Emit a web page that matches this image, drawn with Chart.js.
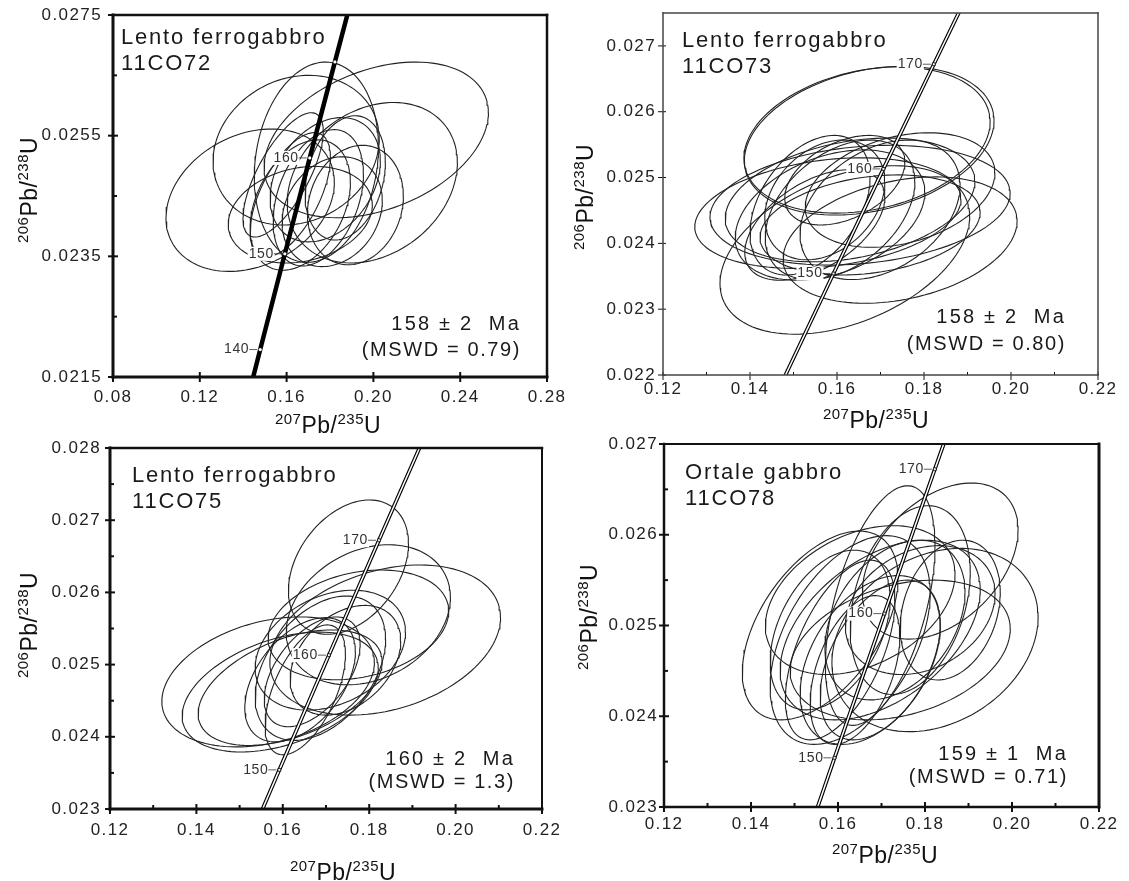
<!DOCTYPE html>
<html>
<head>
<meta charset="utf-8">
<script src="https://cdn.jsdelivr.net/npm/chart.js@4.4.1/dist/chart.umd.min.js"></script>
<style>
  body { margin: 0; background: #fff; }
  #wrap { position: relative; width: 1129px; height: 881px; }
  canvas { position: absolute; left: 0; top: 0; }
</style>
</head>
<body>
<div id="wrap">
  <canvas id="c1" width="1129" height="881"></canvas>
  <canvas id="c2" width="1129" height="881"></canvas>
  <canvas id="c3" width="1129" height="881"></canvas>
  <canvas id="c4" width="1129" height="881"></canvas>
</div>
<script>
// concordia (age in Ma, 207Pb/235U, 206Pb/238U)
const concAge = [120, 130, 140, 150, 160, 170, 180, 190];
const conc207 = [0.12545, 0.13659, 0.14784, 0.15920, 0.17067, 0.18226, 0.19396, 0.20577];
const conc206 = [0.018789, 0.020371, 0.021955, 0.023542, 0.025131, 0.026722, 0.028316, 0.029912];

// 11CO72 - ellipse centres, half-widths and error correlation
const p1X = [0.1432, 0.2013, 0.1995, 0.1737, 0.1644, 0.1663, 0.1746, 0.1617, 0.1810, 0.1870, 0.1663, 0.1584, 0.1917, 0.1778];
const p1Y = [0.02443, 0.02543, 0.02472, 0.02506, 0.02526, 0.02435, 0.02447, 0.02452, 0.02424, 0.02480, 0.02419, 0.02485, 0.02435, 0.02477];
const p1SX = [0.0388, 0.0517, 0.0392, 0.0286, 0.0383, 0.0231, 0.0208, 0.0185, 0.0231, 0.0185, 0.0332, 0.0185, 0.0221, 0.0254];
const p1SY = [0.00118, 0.00129, 0.00133, 0.00166, 0.00124, 0.00108, 0.00113, 0.00103, 0.00091, 0.00103, 0.00080, 0.00103, 0.00099, 0.00103];
const p1Rho = [0.25, 0.35, 0.25, 0.15, 0.15, 0.35, 0.35, 0.60, 0.20, 0.25, 0.20, 0.70, 0.15, 0.30];
const p1XTicks = [0.08, 0.12, 0.16, 0.20, 0.24, 0.28];
const p1XLabels = ['0.08', '0.12', '0.16', '0.20', '0.24', '0.28'];
const p1XMinor = [];
const p1YTicks = [0.0215, 0.0235, 0.0255, 0.0275];
const p1YLabels = ['0.0215', '0.0235', '0.0255', '0.0275'];
const p1YMinor = [0.0225, 0.0245, 0.0265];
const p1Marks = [140, 150, 160, 170];
const p1AgeLabels = [140, 150, 160];

// 11CO73
const p2X = [0.1669, 0.1674, 0.1618, 0.1745, 0.1579, 0.1653, 0.1630, 0.1584, 0.1607, 0.1572, 0.1699, 0.1745, 0.1549, 0.1676, 0.1538, 0.1618];
const p2Y = [0.02557, 0.02556, 0.02390, 0.02405, 0.02446, 0.02458, 0.02466, 0.02443, 0.02451, 0.02466, 0.02451, 0.02481, 0.02428, 0.02428, 0.02458, 0.02496];
const p2SX = [0.0283, 0.0287, 0.0287, 0.0269, 0.0306, 0.0345, 0.0287, 0.0218, 0.0172, 0.0138, 0.0184, 0.0218, 0.0161, 0.0253, 0.0138, 0.0138];
const p2SY = [0.00111, 0.00113, 0.00128, 0.00096, 0.00084, 0.00091, 0.00094, 0.00099, 0.00106, 0.00091, 0.00106, 0.00087, 0.00084, 0.00076, 0.00106, 0.00068];
const p2Rho = [0.25, 0.27, 0.40, 0.30, 0.25, 0.20, 0.30, 0.35, 0.40, 0.30, 0.35, 0.30, 0.50, 0.25, 0.40, 0.40];
const p2XTicks = [0.12, 0.14, 0.16, 0.18, 0.20, 0.22];
const p2XLabels = ['0.12', '0.14', '0.16', '0.18', '0.20', '0.22'];
const p2XMinor = [0.13, 0.15, 0.17, 0.19, 0.21];
const p2YTicks = [0.022, 0.023, 0.024, 0.025, 0.026, 0.027];
const p2YLabels = ['0.022', '0.023', '0.024', '0.025', '0.026', '0.027'];
const p2YMinor = [];
const p2Marks = [150, 160, 170];
const p2AgeLabels = [150, 160, 170];

// 11CO75
const p3X = [0.1752, 0.1837, 0.1798, 0.1566, 0.1594, 0.1617, 0.1687, 0.1640, 0.1710, 0.1652, 0.1745, 0.1668, 0.1775];
const p3Y = [0.02635, 0.02534, 0.02569, 0.02476, 0.02462, 0.02468, 0.02495, 0.02479, 0.02520, 0.02465, 0.02506, 0.02490, 0.02555];
const p3SX = [0.0139, 0.0267, 0.0190, 0.0246, 0.0227, 0.0213, 0.0151, 0.0128, 0.0174, 0.0093, 0.0128, 0.0111, 0.0209];
const p3SY = [0.00093, 0.00104, 0.00097, 0.00090, 0.00083, 0.00080, 0.00100, 0.00086, 0.00083, 0.00090, 0.00076, 0.00076, 0.00076];
const p3Rho = [0.35, 0.30, 0.25, 0.30, 0.40, 0.45, 0.40, 0.45, 0.30, 0.55, 0.35, 0.50, 0.25];
const p3XTicks = [0.12, 0.14, 0.16, 0.18, 0.20, 0.22];
const p3XLabels = ['0.12', '0.14', '0.16', '0.18', '0.20', '0.22'];
const p3XMinor = [0.13, 0.15, 0.17, 0.19, 0.21];
const p3YTicks = [0.023, 0.024, 0.025, 0.026, 0.027, 0.028];
const p3YLabels = ['0.023', '0.024', '0.025', '0.026', '0.027', '0.028'];
const p3YMinor = [0.0235, 0.0245, 0.0255, 0.0265, 0.0275];
const p3Marks = [150, 160, 170];
const p3AgeLabels = [150, 160, 170];

// 11CO78
const p4X = [0.1559, 0.1823, 0.1835, 0.1697, 0.1628, 0.1674, 0.1731, 0.1651, 0.1766, 0.1605, 0.1697, 0.1743, 0.1789, 0.1639, 0.1582, 0.1858, 0.1697];
const p4Y = [0.02500, 0.02484, 0.02571, 0.02522, 0.02484, 0.02462, 0.02506, 0.02528, 0.02528, 0.02473, 0.02495, 0.02473, 0.02517, 0.02451, 0.02495, 0.02517, 0.02462];
const p4SX = [0.0179, 0.0237, 0.0179, 0.0126, 0.0184, 0.0161, 0.0161, 0.0218, 0.0138, 0.0126, 0.0230, 0.0253, 0.0172, 0.0103, 0.0138, 0.0115, 0.0138];
const p4SY = [0.00104, 0.00101, 0.00086, 0.00132, 0.00115, 0.00093, 0.00088, 0.00082, 0.00104, 0.00099, 0.00099, 0.00077, 0.00071, 0.00082, 0.00088, 0.00077, 0.00088];
const p4Rho = [0.50, 0.25, 0.40, 0.50, 0.45, 0.40, 0.35, 0.35, 0.30, 0.55, 0.45, 0.30, 0.25, 0.45, 0.40, 0.25, 0.45];
const p4XTicks = [0.12, 0.14, 0.16, 0.18, 0.20, 0.22];
const p4XLabels = ['0.12', '0.14', '0.16', '0.18', '0.20', '0.22'];
const p4XMinor = [0.13, 0.15, 0.17, 0.19, 0.21];
const p4YTicks = [0.023, 0.024, 0.025, 0.026, 0.027];
const p4YLabels = ['0.023', '0.024', '0.025', '0.026', '0.027'];
const p4YMinor = [0.0235, 0.0245, 0.0255, 0.0265];
const p4Marks = [150, 160, 170];
const p4AgeLabels = [150, 160, 170];

const FONT = '"Liberation Sans", Arial, sans-serif';
Chart.defaults.font.family = FONT;

const Y_W = 95;   // width kept for y tick labels
const X_H = 40;   // height kept for x tick labels

const panels = [
  { id: 'c1', box: [113, 15, 547, 377], xr: [0.08, 0.28], yr: [0.0215, 0.0275],
    x: p1X, y: p1Y, sx: p1SX, sy: p1SY, rho: p1Rho,
    xt: p1XTicks, xl: p1XLabels, xm: p1XMinor, yt: p1YTicks, yl: p1YLabels, ym: p1YMinor,
    marks: p1Marks, ageLabels: p1AgeLabels, solid: true, frameColor: '#111',
    frame: [3, 2.5, 2.5, 3], tick: [5, 5, 4], tickW: 2, xPad: 10, yPad: 11,
    name: ['Lento ferrogabbro', '11CO72'], nameAt: [121, 44, 70],
    age: ['158 \u00b1 2  Ma', '(MSWD = 0.79)'], ageAt: [521, 330, 356],
    xTitle: [328, 433], yTitle: [37, 190] },
  { id: 'c2', box: [663, 13, 1098, 375], xr: [0.12, 0.22], yr: [0.022, 0.0275],
    x: p2X, y: p2Y, sx: p2SX, sy: p2SY, rho: p2Rho,
    xt: p2XTicks, xl: p2XLabels, xm: p2XMinor, yt: p2YTicks, yl: p2YLabels, ym: p2YMinor,
    marks: p2Marks, ageLabels: p2AgeLabels, solid: false, frameColor: '#444',
    frame: [1.5, 1.5, 1.5, 1.5], tick: [5, 3, 3], tickW: 1, xPad: 4, yPad: 7,
    name: ['Lento ferrogabbro', '11CO73'], nameAt: [682, 47, 73],
    age: ['158 \u00b1 2  Ma', '(MSWD = 0.80)'], ageAt: [1066, 323, 350],
    xTitle: [876, 428], yTitle: [593, 197] },
  { id: 'c3', box: [110, 448, 542, 809], xr: [0.12, 0.22], yr: [0.023, 0.028],
    x: p3X, y: p3Y, sx: p3SX, sy: p3SY, rho: p3Rho,
    xt: p3XTicks, xl: p3XLabels, xm: p3XMinor, yt: p3YTicks, yl: p3YLabels, ym: p3YMinor,
    marks: p3Marks, ageLabels: p3AgeLabels, solid: false, frameColor: '#111',
    frame: [3, 2.5, 2, 3], tick: [5, 5, 4], tickW: 2, xPad: 11, yPad: 9,
    name: ['Lento ferrogabbro', '11CO75'], nameAt: [132, 482, 508],
    age: ['160 \u00b1 2  Ma', '(MSWD = 1.3)'], ageAt: [515, 765, 788],
    xTitle: [343, 880], yTitle: [37, 625] },
  { id: 'c4', box: [664, 444, 1099, 807], xr: [0.12, 0.22], yr: [0.023, 0.027],
    x: p4X, y: p4Y, sx: p4SX, sy: p4SY, rho: p4Rho,
    xt: p4XTicks, xl: p4XLabels, xm: p4XMinor, yt: p4YTicks, yl: p4YLabels, ym: p4YMinor,
    marks: p4Marks, ageLabels: p4AgeLabels, solid: false, frameColor: '#111',
    frame: [2.5, 2, 3, 2.5], tick: [5, 5, 4], tickW: 2, xPad: 7, yPad: 6,
    name: ['Ortale gabbro', '11CO78'], nameAt: [685, 479, 505],
    age: ['159 \u00b1 1  Ma', '(MSWD = 0.71)'], ageAt: [1068, 760, 783],
    xTitle: [885, 863], yTitle: [597, 617] }
];

// outline of a 2-sigma error ellipse from centre, half-widths and correlation
function ellipsePts(cx, cy, ax, ay, rho) {
  const pts = [];
  const s = Math.sqrt(1 - rho * rho);
  for (let k = 0; k <= 120; k++) {
    const t = k / 120 * 2 * Math.PI;
    pts.push({ x: cx + ax * Math.cos(t), y: cy + ay * (rho * Math.cos(t) + s * Math.sin(t)) });
  }
  return pts;
}

function concPoint(age) {
  const i = concAge.indexOf(age);
  return { x: conc207[i], y: conc206[i] };
}

function line(ctx, x1, y1, x2, y2) {
  ctx.beginPath();
  ctx.moveTo(x1, y1);
  ctx.lineTo(x2, y2);
  ctx.stroke();
}

function supTitle(ctx, x, y, rot, parts) {
  ctx.save();
  ctx.translate(x, y);
  ctx.rotate(rot);
  ctx.letterSpacing = '0.5px';
  ctx.fillStyle = '#111';
  ctx.textAlign = 'left';
  ctx.textBaseline = 'alphabetic';
  const big = '23px ' + FONT, small = '15px ' + FONT;
  let w = 0;
  parts.forEach(([t, sup]) => { ctx.font = sup ? small : big; w += ctx.measureText(t).width; });
  let cx = -w / 2;
  parts.forEach(([t, sup]) => {
    ctx.font = sup ? small : big;
    ctx.fillText(t, cx, sup ? -9 : 0);
    cx += ctx.measureText(t).width;
  });
  ctx.restore();
}

function makeDecor(p) {
  return {
    id: 'decor' + p.id,
    beforeDraw(chart) {
      chart.ctx.letterSpacing = '1.4px';
    },
    afterDraw(chart) {
      const ctx = chart.ctx;
      const xs = chart.scales.x, ys = chart.scales.y, a = chart.chartArea;
      ctx.save();

      // concordia age labels
      ctx.font = '14px ' + FONT;
      ctx.letterSpacing = '0.6px';
      ctx.textAlign = 'right';
      ctx.textBaseline = 'middle';
      p.ageLabels.forEach(age => {
        const c = concPoint(age);
        const mx = xs.getPixelForValue(c.x), my = ys.getPixelForValue(c.y);
        const txt = String(age);
        const w = ctx.measureText(txt).width;
        const right = mx - 11;
        ctx.fillStyle = '#fff';
        ctx.fillRect(right - w - 1, my - 7, w + 2, 14);
        ctx.fillStyle = '#333';
        ctx.fillText(txt, right, my);
        ctx.strokeStyle = '#333';
        ctx.lineWidth = 0.8;
        line(ctx, right, my, mx - 3, my);
      });

      // tick marks
      ctx.strokeStyle = '#111';
      ctx.lineWidth = p.tickW;
      p.xt.forEach(v => { const px = xs.getPixelForValue(v); line(ctx, px, a.bottom + p.tick[0], px, a.bottom - p.tick[1]); });
      p.xm.forEach(v => { const px = xs.getPixelForValue(v); line(ctx, px, a.bottom, px, a.bottom - p.tick[2]); });
      p.yt.forEach(v => { const py = ys.getPixelForValue(v); line(ctx, a.left - p.tick[0], py, a.left + p.tick[1], py); });
      p.ym.forEach(v => { const py = ys.getPixelForValue(v); line(ctx, a.left, py, a.left + p.tick[2], py); });

      // frame
      ctx.strokeStyle = p.frameColor;
      ctx.lineCap = 'square';
      ctx.lineWidth = p.frame[0]; line(ctx, a.left, a.top, a.left, a.bottom);
      ctx.lineWidth = p.frame[1]; line(ctx, a.left, a.top, a.right, a.top);
      ctx.lineWidth = p.frame[2]; line(ctx, a.right, a.top, a.right, a.bottom);
      ctx.lineWidth = p.frame[3]; line(ctx, a.left, a.bottom, a.right, a.bottom);

      // sample name
      ctx.fillStyle = '#1a1a1a';
      ctx.textAlign = 'left';
      ctx.textBaseline = 'alphabetic';
      ctx.font = '22px ' + FONT;
      ctx.letterSpacing = '1.8px';
      ctx.fillText(p.name[0], p.nameAt[0], p.nameAt[1]);
      ctx.fillText(p.name[1], p.nameAt[0], p.nameAt[2]);

      // age result
      ctx.textAlign = 'right';
      ctx.font = '20px ' + FONT;
      ctx.letterSpacing = '2.2px';
      ctx.fillText(p.age[0], p.ageAt[0], p.ageAt[1]);
      ctx.letterSpacing = '1.6px';
      ctx.fillText(p.age[1], p.ageAt[0], p.ageAt[2]);
      ctx.restore();

      // axis titles
      supTitle(ctx, p.xTitle[0], p.xTitle[1], 0, [['207', 1], ['Pb/', 0], ['235', 1], ['U', 0]]);
      supTitle(ctx, p.yTitle[0], p.yTitle[1], -Math.PI / 2, [['206', 1], ['Pb/', 0], ['238', 1], ['U', 0]]);
    }
  };
}

panels.forEach(p => {
  const datasets = [];
  p.x.forEach((cx, i) => {
    datasets.push({
      data: ellipsePts(cx, p.y[i], p.sx[i], p.sy[i], p.rho[i]),
      showLine: true, pointRadius: 0, borderColor: '#222', borderWidth: 1.1, tension: 0, order: 3
    });
  });
  const conc = concAge.map(age => concPoint(age));
  datasets.push({ data: conc, showLine: true, pointRadius: 0, borderColor: '#000',
    borderWidth: p.solid ? 4.5 : 3.8, tension: 0, order: 2 });
  if (!p.solid) {
    datasets.push({ data: conc, showLine: true, pointRadius: 0, borderColor: '#fff',
      borderWidth: 1.5, tension: 0, order: 1 });
  }
  datasets.push({
    data: p.marks.map(age => concPoint(age)), showLine: false,
    pointStyle: p.solid ? 'circle' : 'rect', pointRadius: p.solid ? 1.6 : 2,
    backgroundColor: '#fff', borderColor: '#000', borderWidth: p.solid ? 0 : 0.8, order: 0
  });

  new Chart(document.getElementById(p.id), {
    type: 'scatter',
    data: { datasets: datasets },
    options: {
      responsive: false,
      animation: false,
      events: [],
      layout: { padding: { left: p.box[0] - Y_W, top: p.box[1], right: 1129 - p.box[2], bottom: 881 - p.box[3] - X_H } },
      plugins: { legend: { display: false }, tooltip: { enabled: false } },
      scales: {
        x: {
          type: 'linear', min: p.xr[0], max: p.xr[1],
          grid: { display: false, drawTicks: false }, border: { display: false },
          afterBuildTicks: s => { s.ticks = p.xt.map(v => ({ value: v })); },
          afterFit: s => { s.height = X_H; s.paddingLeft = 0; s.paddingRight = 0; s.paddingTop = 0; s.paddingBottom = 0; },
          ticks: { autoSkip: false, maxRotation: 0, minRotation: 0, padding: p.xPad, color: '#222',
            font: { size: 17 }, callback: (v, i) => p.xl[i] }
        },
        y: {
          type: 'linear', min: p.yr[0], max: p.yr[1],
          grid: { display: false, drawTicks: false }, border: { display: false },
          afterBuildTicks: s => { s.ticks = p.yt.map(v => ({ value: v })); },
          afterFit: s => { s.width = Y_W; s.paddingLeft = 0; s.paddingRight = 0; s.paddingTop = 0; s.paddingBottom = 0; },
          ticks: { autoSkip: false, padding: p.yPad, color: '#222',
            font: { size: 17 }, callback: (v, i) => p.yl[i] }
        }
      }
    },
    plugins: [makeDecor(p)]
  });
});
</script>
</body>
</html>
